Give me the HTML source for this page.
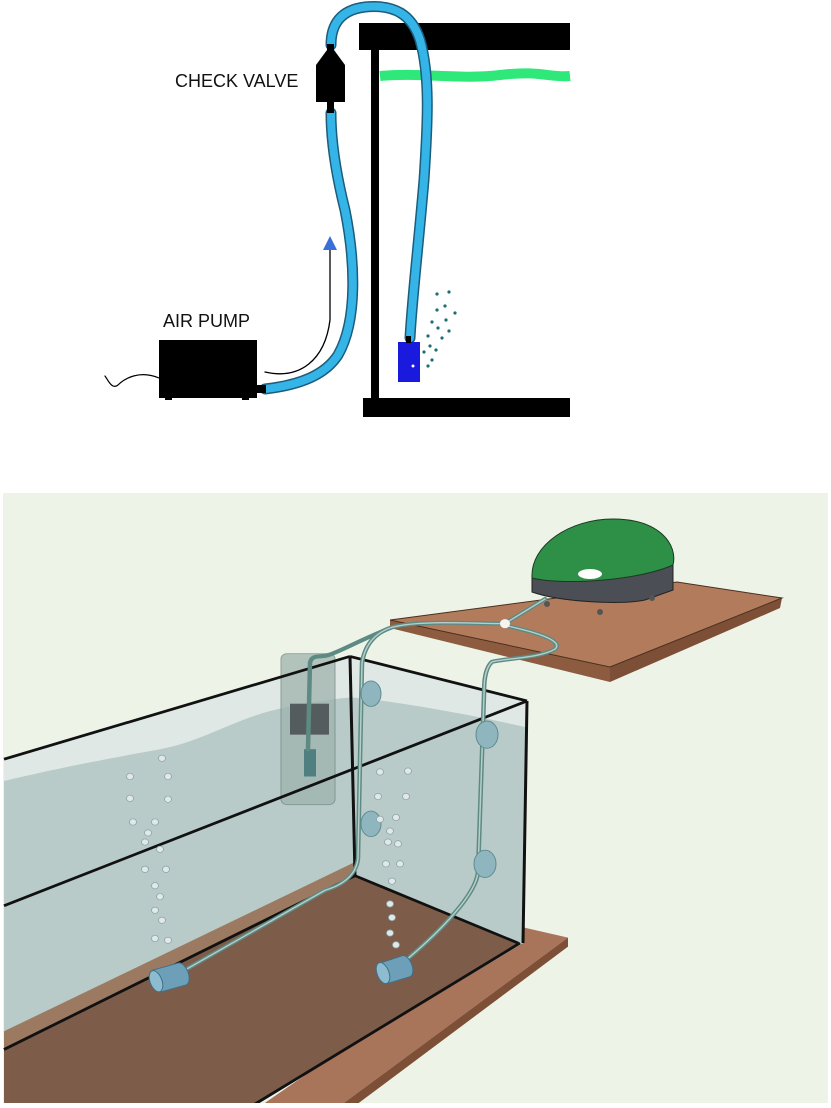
<!DOCTYPE html>
<html><head><meta charset="utf-8"><style>
html,body{margin:0;padding:0;background:#fff;}
svg{display:block;}
</style></head><body>
<svg width="831" height="1108" viewBox="0 0 831 1108" xmlns="http://www.w3.org/2000/svg" font-family="Liberation Sans, sans-serif">
<rect width="831" height="1108" fill="#fff"/>
<!-- TOP DIAGRAM -->
<rect x="359" y="23" width="211" height="27" fill="#000"/>
<rect x="371" y="50" width="8" height="353" fill="#000"/>
<rect x="363" y="398" width="207" height="19" fill="#000"/>
<path d="M380,76 C420,72 460,80 500,75 S550,78 570,76" stroke="#2ee87a" stroke-width="10" fill="none"/>
<text x="175" y="87" font-size="18" fill="#111">CHECK VALVE</text>
<text x="163" y="327" font-size="18" fill="#111">AIR PUMP</text>
<g fill="none" stroke-linecap="round">
<path d="M265,389 C300,385 325,375 338,355 C358,320 355,260 345,210 C335,170 331,140 331,113" stroke="#1b5d7a" stroke-width="11"/>
<path d="M265,389 C300,385 325,375 338,355 C358,320 355,260 345,210 C335,170 331,140 331,113" stroke="#35b4e8" stroke-width="8"/>
<path d="M331,45 C331,25 340,10 365,7 C395,4 412,15 420,40 C430,75 428,120 424,180 C418,250 412,300 410,338" stroke="#1b5d7a" stroke-width="11"/>
<path d="M331,45 C331,25 340,10 365,7 C395,4 412,15 420,40 C430,75 428,120 424,180 C418,250 412,300 410,338" stroke="#35b4e8" stroke-width="8"/>
<path d="M265,372 C300,380 325,360 330,320 L330,250" stroke="#000" stroke-width="1.3"/>
<path d="M159,378 C140,370 125,378 118,385 C112,390 108,380 105,376" stroke="#000" stroke-width="1.2"/>
</g>
<polygon points="323,250 337,250 330,236" fill="#3a6fd8"/>
<polygon points="316,102 345,102 345,65 334,50 327,50 316,65" fill="#000"/>
<rect x="327" y="44" width="7" height="7" fill="#000"/>
<rect x="327" y="102" width="7" height="11" fill="#000"/>
<rect x="159" y="340" width="98" height="58" fill="#000"/>
<rect x="165" y="396" width="7" height="4" fill="#000"/>
<rect x="242" y="396" width="7" height="4" fill="#000"/>
<rect x="257" y="385" width="9" height="8" fill="#000"/>
<rect x="398" y="342" width="22" height="40" fill="#1a1adf"/>
<rect x="406" y="336" width="5" height="7" fill="#000"/>
<circle cx="413" cy="366" r="1.5" fill="#fff"/>
<g fill="#1d6e72">
<circle cx="437" cy="294" r="1.6"/><circle cx="449" cy="292" r="1.6"/><circle cx="445" cy="306" r="1.6"/><circle cx="437" cy="310" r="1.6"/><circle cx="455" cy="313" r="1.6"/>
<circle cx="432" cy="322" r="1.6"/><circle cx="446" cy="320" r="1.6"/><circle cx="438" cy="328" r="1.6"/><circle cx="449" cy="331" r="1.6"/><circle cx="428" cy="336" r="1.6"/>
<circle cx="442" cy="338" r="1.6"/><circle cx="430" cy="346" r="1.6"/><circle cx="436" cy="350" r="1.6"/><circle cx="424" cy="352" r="1.6"/><circle cx="432" cy="360" r="1.6"/><circle cx="428" cy="366" r="1.6"/></g>

<!-- BOTTOM PANEL -->
<rect x="3" y="493" width="825" height="610" fill="#eef3e8"/>
<polygon points="390,620 677,582 782,598 610,667" fill="#b27c5c"/>
<polygon points="390,620 610,667 610,682 390,628" fill="#8d5c40"/>
<polygon points="610,667 782,598 780,608 610,682" fill="#7d4f36"/>
<polyline points="390,620 677,582 782,598 610,667 390,620" fill="none" stroke="#4a2f20" stroke-width="1"/>
<path d="M532,576 L532,592 C560,602 620,605 645,600 L673,590 L673,564 Z" fill="#4b4f55" stroke="#222" stroke-width="1"/>
<path d="M532,578 C530,545 570,519 613,519 C660,519 678,545 673,565 C640,580 565,586 532,578Z" fill="#2e8f46" stroke="#1a3a22" stroke-width="1"/>
<ellipse cx="590" cy="574" rx="12" ry="5" fill="#fff"/>
<circle cx="547" cy="604" r="3" fill="#555"/><circle cx="600" cy="612" r="3" fill="#555"/><circle cx="652" cy="598" r="3" fill="#555"/>

<g transform="translate(0,640) scale(1,0.91) translate(0,-640)">
<polygon points="520,955 568,967 330,1160 250,1160" fill="#a8745a"/>
<polygon points="568,967 568,977 345,1160 330,1160" fill="#7d4f36"/>
<polygon points="4,771 350,658 527,707 523,973 240,1160 4,1160" fill="#dfe8e4"/>
<path d="M4,795 C60,780 120,768 160,760 C200,752 230,730 270,718 C300,710 330,705 352,703 C400,708 470,722 527,736 L523,973 L240,1160 L4,1160 Z" fill="#b8cbc8"/>
<polygon points="4,1070 355,884 355,899 4,1090" fill="#9c7a62"/>
<polygon points="4,1090 355,899 518,973 240,1160 4,1160" fill="#7d5d4a"/>
<rect x="281" y="655" width="54" height="166" rx="6" fill="#9fb3ae" opacity="0.75" stroke="#6f8581"/>
<rect x="290" y="710" width="39" height="34" fill="#545c5e"/>
<rect x="304" y="760" width="12" height="30" fill="#4f7f80"/>
<g stroke="#111" stroke-width="3" fill="none">
<line x1="4" y1="771" x2="350" y2="658"/>
<line x1="350" y1="658" x2="527" y2="707"/>
<line x1="527" y1="707" x2="4" y2="932"/>
<line x1="350" y1="658" x2="355" y2="899"/>
<line x1="527" y1="707" x2="523" y2="973"/>
<line x1="355" y1="899" x2="4" y2="1090"/>
<line x1="355" y1="899" x2="518" y2="973"/>
<line x1="520" y1="973" x2="240" y2="1160"/>
</g>
<g fill="none" stroke-linecap="round">
<g stroke="#5e8a84" stroke-width="4.5">
<path d="M545,595 C530,605 515,615 505,622 C470,622 420,618 392,626 C375,632 365,645 362,665 L358,880 C356,900 340,910 325,915 L186,1002"/>
<path d="M505,624 C530,630 565,640 555,650 C540,660 505,660 492,664 C484,672 484,690 484,700 L478,895 C476,920 440,960 408,990"/>
<path d="M392,626 C360,640 345,650 330,656 C320,660 312,655 310,665 L308,760"/>
</g>
<g stroke="#b6cfcb" stroke-width="1.5">
<path d="M545,595 C530,605 515,615 505,622 C470,622 420,618 392,626 C375,632 365,645 362,665 L358,880 C356,900 340,910 325,915 L186,1002"/>
<path d="M505,624 C530,630 565,640 555,650 C540,660 505,660 492,664 C484,672 484,690 484,700 L478,895 C476,920 440,960 408,990"/>
</g>
</g>
<circle cx="505" cy="622" r="5" fill="#f4f4f4"/>
<g fill="#6e9fb8" stroke="#3f6f85" stroke-width="1">
<path d="M152,1003 L178,995 A6,12 -18 0 1 186,1019 L160,1027 Z"/>
<ellipse cx="156" cy="1015" rx="6" ry="12" transform="rotate(-18 156 1015)" fill="#8dbbd0"/>
<path d="M380,995 L402,987 A6,12 -18 0 1 410,1010 L386,1018 Z"/>
<ellipse cx="383" cy="1006" rx="6" ry="12" transform="rotate(-18 383 1006)" fill="#8dbbd0"/>
</g>
<g fill="#8fb6be" stroke="#5e8a90">
<ellipse cx="371" cy="699" rx="10" ry="14"/><ellipse cx="371" cy="842" rx="10" ry="14"/>
<ellipse cx="487" cy="744" rx="11" ry="15"/><ellipse cx="485" cy="886" rx="11" ry="15"/>
</g>
<g fill="#dfe8ea" stroke="#8ea3a6" stroke-width="0.8">
<circle cx="162" cy="770" r="3.5"/><circle cx="130" cy="790" r="3.5"/><circle cx="168" cy="790" r="3.5"/><circle cx="130" cy="814" r="3.5"/><circle cx="168" cy="815" r="3.5"/>
<circle cx="133" cy="840" r="3.5"/><circle cx="155" cy="840" r="3.5"/><circle cx="148" cy="852" r="3.5"/><circle cx="145" cy="862" r="3.5"/><circle cx="160" cy="870" r="3.5"/>
<circle cx="145" cy="892" r="3.5"/><circle cx="166" cy="892" r="3.5"/><circle cx="155" cy="910" r="3.5"/><circle cx="160" cy="922" r="3.5"/><circle cx="155" cy="937" r="3.5"/>
<circle cx="162" cy="948" r="3.5"/><circle cx="155" cy="968" r="3.5"/><circle cx="168" cy="970" r="3.5"/>
<circle cx="380" cy="785" r="3.5"/><circle cx="408" cy="784" r="3.5"/><circle cx="378" cy="812" r="3.5"/><circle cx="406" cy="812" r="3.5"/>
<circle cx="380" cy="837" r="3.5"/><circle cx="396" cy="835" r="3.5"/><circle cx="390" cy="850" r="3.5"/><circle cx="388" cy="862" r="3.5"/><circle cx="398" cy="864" r="3.5"/>
<circle cx="386" cy="886" r="3.5"/><circle cx="400" cy="886" r="3.5"/><circle cx="392" cy="905" r="3.5"/><circle cx="390" cy="930" r="3.5"/><circle cx="392" cy="945" r="3.5"/><circle cx="390" cy="962" r="3.5"/><circle cx="396" cy="975" r="3.5"/>
</g>
</g>
<rect x="0" y="1103" width="831" height="5" fill="#fff"/>
</svg>
</body></html>
